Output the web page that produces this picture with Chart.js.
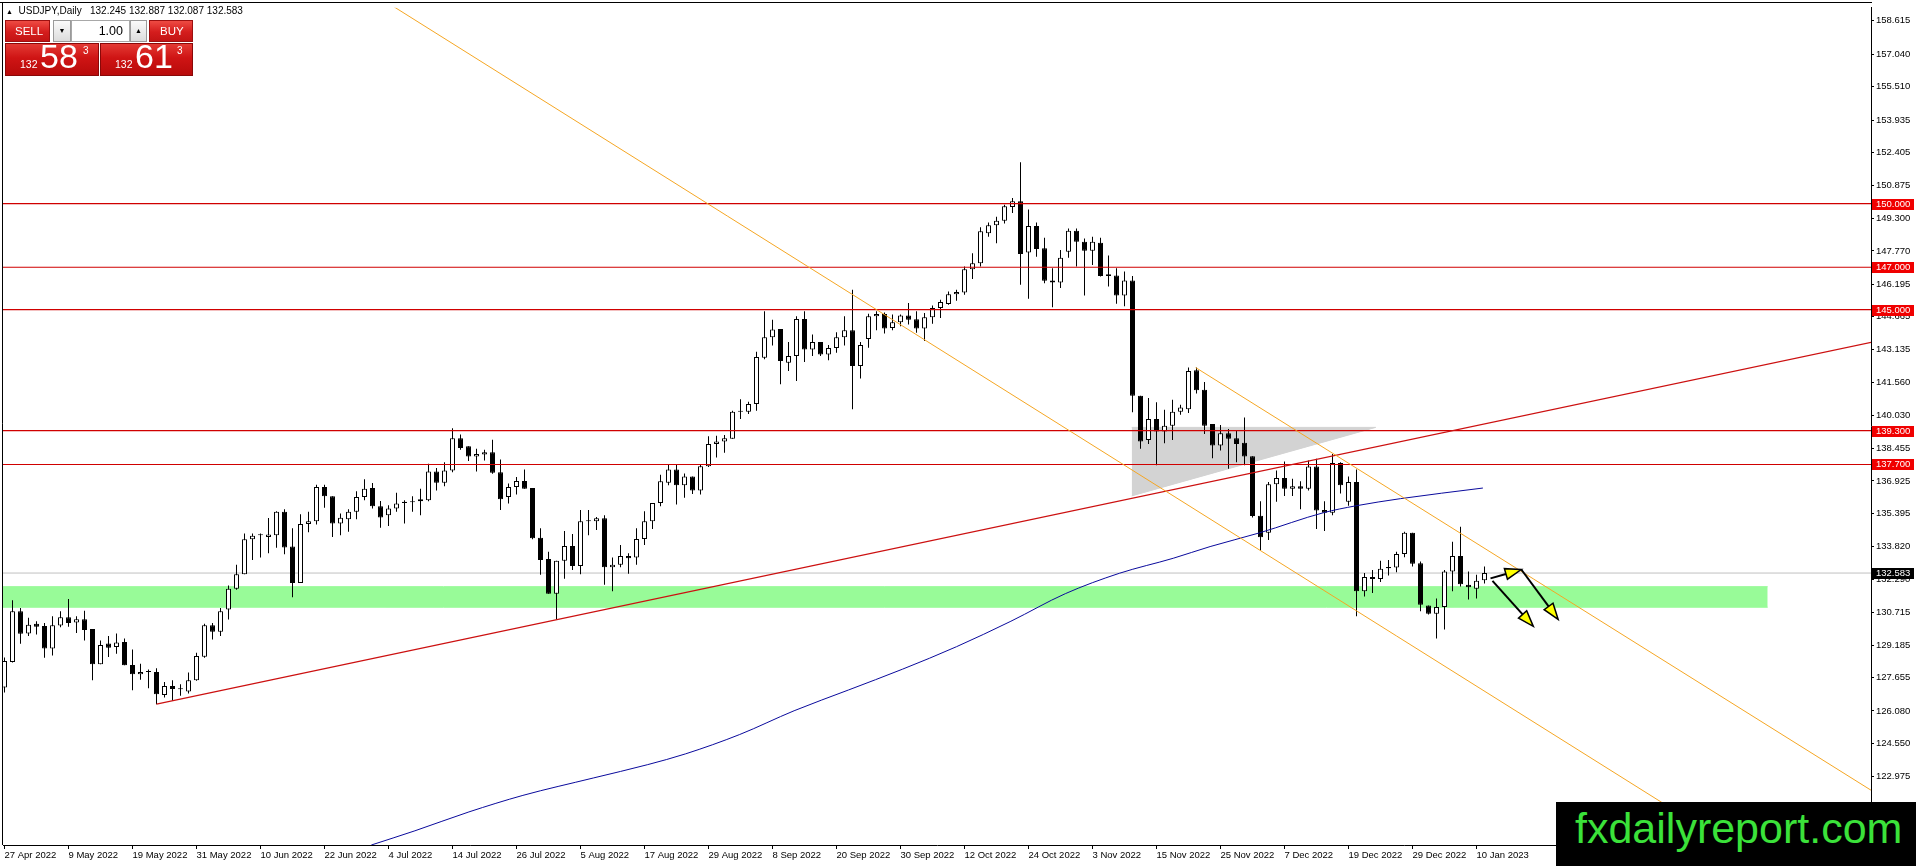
<!DOCTYPE html>
<html>
<head>
<meta charset="utf-8">
<title>USDJPY Daily</title>
<script src="https://cdn.jsdelivr.net/npm/chart.js@4.4.1/dist/chart.umd.min.js"></script>
<style>
html,body{margin:0;padding:0;background:#fff;overflow:hidden;}
#wrap{position:relative;width:1916px;height:866px;overflow:hidden;}
#c{position:absolute;left:0;top:0;}
.ov{position:absolute;box-sizing:border-box;}
.reg{font-family:"Liberation Sans",Arial,sans-serif;}
#title{left:6px;top:6px;font-size:10px;line-height:10px;color:#000;white-space:pre;}
.btnr{background:linear-gradient(#ee4b43,#d41d1d 55%,#c31414);border:1px solid #9c1010;color:#fff;font-size:11.5px;line-height:20px;}
.btng{background:linear-gradient(#fafafa,#dcdcdc);border:1px solid #9a9a9a;color:#000;font-size:7px;line-height:20px;text-align:center;}
.inp{background:#fff;border:1px solid #a8a8a8;color:#000;font-size:12.5px;line-height:20px;text-align:right;padding-right:6px;}
.pbox{background:linear-gradient(#e43a34,#cf1414 45%,#b80b0b);border:1px solid #8a0808;}
.pt{position:absolute;color:#fff;line-height:1;white-space:pre;}
#wm{left:1556px;top:802px;width:360px;height:64px;background:#000;}
#wmt{position:absolute;left:19px;top:5px;font-size:43px;line-height:43px;color:#3be23a;white-space:pre;}
</style>
</head>
<body>
<div id="wrap">
<canvas id="c" width="1916" height="866" style="width:1916px;height:866px"></canvas>
<div id="title" class="ov reg"><span style="font-size:7px">▲</span>  USDJPY,Daily   132.245 132.887 132.087 132.583</div>
<div class="ov btnr reg" style="left:5px;top:20px;width:45px;height:22px;padding-left:9px;">SELL</div>
<div class="ov btng reg" style="left:53px;top:20px;width:18px;height:22px;">▼</div>
<div class="ov inp reg" style="left:71px;top:20px;width:59px;height:22px;">1.00</div>
<div class="ov btng reg" style="left:130px;top:20px;width:17px;height:22px;">▲</div>
<div class="ov btnr reg" style="left:149px;top:20px;width:44px;height:22px;padding-left:10px;">BUY</div>
<div class="ov pbox" style="left:5px;top:43px;width:94px;height:33px;"></div>
<div class="ov pbox" style="left:100px;top:43px;width:93px;height:33px;"></div>
<span class="pt reg" style="left:20px;top:59px;font-size:10.5px;">132</span>
<span class="pt reg" style="left:40px;top:39px;font-size:34px;">58</span>
<span class="pt reg" style="left:83px;top:46px;font-size:10px;">3</span>
<span class="pt reg" style="left:115px;top:59px;font-size:10.5px;">132</span>
<span class="pt reg" style="left:135px;top:39px;font-size:34px;">61</span>
<span class="pt reg" style="left:177px;top:46px;font-size:10px;">3</span>
<div id="wm" class="ov"><span id="wmt" class="reg">fxdailyreport.com</span></div>
</div>
<script>
// ---------------- DATA ----------------
const opens = [
127.19,128.39,130.78,129.73,130.19,130.08,129.03,130.11,130.50,130.25,
130.40,129.94,128.28,129.26,129.09,129.33,128.25,127.81,127.92,127.92,
126.83,127.26,127.10,127.00,127.53,128.64,130.12,129.81,130.86,131.84,
132.53,134.18,134.36,134.28,134.37,135.47,133.83,132.11,134.89,135.03,
136.64,136.20,134.92,135.12,135.47,136.17,136.59,135.73,135.31,135.62,
135.94,135.97,135.97,136.01,137.37,136.84,137.42,138.94,138.56,138.08,
138.17,138.28,137.34,136.17,136.64,136.92,136.59,134.25,133.25,131.61,
133.16,133.86,132.92,135.03,135.03,135.16,132.86,132.97,133.39,133.31,
134.19,135.03,135.89,136.84,137.47,136.72,137.14,136.47,137.62,138.67,
138.78,138.91,140.19,140.19,140.55,142.73,143.70,144.09,142.50,142.81,
144.56,143.12,143.47,142.89,143.19,143.70,144.03,142.34,143.62,144.69,
144.80,144.14,144.41,144.73,144.55,144.11,144.64,145.08,145.27,145.73,
145.81,146.91,147.19,148.60,148.98,149.19,149.84,150.11,147.69,148.95,
147.89,146.38,146.28,147.73,148.72,148.20,147.78,148.16,146.67,146.61,
145.67,146.38,140.94,138.86,139.84,139.25,139.53,140.19,140.31,142.14,
141.22,139.61,138.59,139.17,138.94,138.72,138.09,135.28,134.48,136.77,
137.06,136.56,136.67,136.56,137.61,135.55,135.42,137.77,135.94,136.88,
131.72,132.40,132.30,132.87,132.84,133.48,134.48,133.05,131.05,130.66,
130.98,132.66,133.39,132.03,131.84,132.245];
const highs = [
128.60,131.30,130.94,130.47,130.31,130.23,130.55,130.78,131.36,130.55,
130.81,129.94,129.40,129.61,129.73,129.50,128.98,128.31,128.04,128.09,
127.45,127.53,127.34,127.89,128.83,130.19,130.23,130.94,132.00,132.97,
134.45,134.45,134.45,135.18,135.50,135.59,134.69,135.36,135.47,136.75,
136.75,136.20,135.39,135.59,136.44,137.00,136.83,135.98,135.78,136.37,
136.01,136.20,136.56,137.73,137.53,137.81,139.41,139.11,138.56,138.44,
138.39,138.87,137.94,136.80,137.11,137.47,136.59,134.69,133.59,133.16,
134.56,134.42,135.55,135.55,135.23,135.31,133.31,133.90,133.52,134.69,
135.50,135.89,137.22,137.69,137.69,137.27,137.14,137.69,139.03,139.06,
139.09,140.23,140.78,140.66,143.02,144.92,144.53,144.09,143.47,144.69,
144.92,143.83,143.47,143.33,143.94,144.69,145.94,143.47,144.81,144.92,
144.87,144.77,144.77,145.31,144.92,144.84,145.20,145.47,145.86,145.94,
147.03,147.66,148.88,149.11,149.38,149.95,150.27,151.95,149.72,149.11,
148.39,146.95,147.81,148.83,148.83,148.36,148.44,148.39,147.55,146.95,
146.80,146.59,140.94,140.83,140.63,140.28,140.75,140.52,142.27,142.27,
141.59,139.61,139.56,139.37,139.30,139.92,138.09,135.97,136.88,137.42,
137.84,137.03,136.91,137.89,137.97,135.97,138.20,137.81,137.14,137.47,
132.58,132.73,133.16,133.20,133.59,134.53,134.48,133.13,131.05,131.38,
132.73,134.06,134.77,132.66,132.50,132.887];
const lows = [
126.95,128.36,129.25,129.61,129.69,128.59,128.70,130.03,130.05,129.76,
129.40,127.53,128.28,128.62,128.78,128.23,127.06,127.55,127.15,126.40,
126.72,126.56,126.80,126.90,127.50,128.59,129.45,129.61,130.39,131.80,
132.53,133.20,133.31,133.51,133.78,133.47,131.44,132.11,134.50,134.87,
135.66,134.28,134.37,134.53,135.12,136.01,135.62,134.72,134.80,135.47,
134.92,135.47,135.31,135.97,136.48,136.67,137.34,138.39,137.86,137.37,
137.89,137.26,135.55,135.86,136.28,136.56,134.17,132.50,131.61,130.39,
132.31,132.73,132.53,134.37,134.61,132.03,131.72,132.86,132.55,132.97,
133.90,134.66,135.73,136.72,135.81,136.13,136.31,136.28,137.58,138.03,
138.25,138.91,139.84,140.08,140.23,142.66,143.31,141.48,142.11,141.64,
142.53,142.81,142.81,142.62,142.97,143.31,140.31,141.75,143.20,144.03,
143.88,144.03,144.22,144.30,143.91,143.52,144.33,144.61,145.23,145.42,
145.70,146.45,147.03,148.44,148.13,149.06,149.56,146.17,145.52,147.50,
146.25,145.11,146.02,147.45,147.03,145.67,147.11,146.56,146.09,145.28,
145.16,140.16,138.44,138.67,137.66,138.70,138.86,140.05,140.13,141.05,
139.14,138.00,138.36,137.50,137.81,137.66,135.20,133.63,134.14,135.94,
136.22,136.22,135.59,136.48,134.66,134.56,135.31,136.33,135.75,130.55,
131.48,131.64,132.16,132.47,132.62,133.33,132.89,130.78,130.63,129.50,
129.92,131.72,131.95,131.33,131.38,132.087];
const closes = [
128.43,130.78,129.72,130.15,130.05,129.03,130.12,130.50,130.23,130.40,
129.90,128.28,129.19,129.06,129.31,128.23,127.81,127.92,127.93,126.87,
127.26,127.11,127.12,127.53,128.67,130.12,129.81,130.78,131.84,132.53,
134.18,134.34,134.38,134.40,135.47,133.79,132.11,134.89,135.03,136.64,
136.20,134.92,135.19,135.47,136.17,136.56,135.73,135.20,135.62,135.86,
135.89,135.92,136.06,137.37,136.84,137.42,138.94,138.48,138.08,138.20,
138.28,137.31,136.06,136.64,136.92,136.56,134.22,133.20,131.61,133.16,
133.86,132.92,135.03,135.04,135.16,132.86,132.97,133.39,133.28,134.19,
135.03,135.89,136.91,137.47,136.72,137.14,136.47,137.62,138.67,138.78,
138.94,140.19,140.20,140.55,142.77,143.70,144.06,142.58,142.81,144.56,
143.12,143.47,142.89,143.19,143.70,144.03,142.34,143.33,144.69,144.80,
144.11,144.41,144.73,144.53,144.11,144.64,145.08,145.36,145.73,145.83,
146.91,147.19,148.70,148.98,149.19,149.88,150.11,147.62,148.95,147.86,
146.36,146.28,147.45,148.72,148.20,147.78,148.20,146.59,146.59,145.67,
146.38,140.94,138.78,139.84,139.25,139.53,140.19,140.39,142.11,141.20,
139.53,138.59,139.17,138.91,138.67,138.08,135.27,134.27,136.77,137.06,
136.56,136.67,136.56,137.61,135.53,135.42,137.77,136.72,136.88,131.72,
132.40,132.30,132.78,132.81,133.48,134.48,133.02,131.09,130.66,130.98,
132.66,133.39,132.06,131.91,132.22,132.583];

const dateLabels = ['27 Apr 2022','9 May 2022','19 May 2022','31 May 2022','10 Jun 2022','22 Jun 2022',
'4 Jul 2022','14 Jul 2022','26 Jul 2022','5 Aug 2022','17 Aug 2022','29 Aug 2022','8 Sep 2022',
'20 Sep 2022','30 Sep 2022','12 Oct 2022','24 Oct 2022','3 Nov 2022','15 Nov 2022','25 Nov 2022',
'7 Dec 2022','19 Dec 2022','29 Dec 2022','10 Jan 2023'];
const labelBars = [0,8,16,24,32,40,48,56,64,72,80,88,96,104,112,120,128,136,144,152,160,168,176,184];
const yTicks = [158.615,157.040,155.510,153.935,152.405,150.875,149.300,147.770,146.195,144.665,143.135,
141.560,140.030,138.455,136.925,135.395,133.820,132.290,130.715,129.185,127.655,126.080,124.550,122.975];

const levels = [150.000,147.000,145.000,139.300,137.700];
const lastPrice = 132.583;

const trendBars = [19, 233.5];
const trendPrices = [126.40, 143.47];
const chan1Bars = [45, 220];
const chan1Prices = [160.15, 118.73];
const chan2Bars = [148.9, 233.5];
const chan2Prices = [142.27, 122.30];

const maBars = [45.85,51.3,58.05,64.8,73.6,80.4,85.15,91.9,98.7,105.5,112.25,119.0,125.8,132.6,139.35,146.1,150.7,156.9,164.9,168.9,174.5,184.8];
const maValues = [119.76,120.43,121.32,122.10,122.92,123.55,124.06,124.97,126.09,127.07,128.05,129.11,130.31,131.61,132.57,133.28,133.83,134.48,135.43,135.75,136.09,136.59];

const zoneBars = [-1, 220.4];
const zonePrices = [130.97, 131.94];

const triBars = [140.9, 171.4];
const triTopPrices = [139.45, 139.45];
const triBottomPrices = [136.22, 139.45];

const arrowFromBars = [185.75, 189.6, 186.0];
const arrowFromPrices = [132.33, 132.75, 132.21];
const arrowToBars = [189.6, 194.2, 191.1];
const arrowToPrices = [132.75, 130.40, 130.07];

// ---------------- CHART ----------------
const FONT = '"Liberation Sans", Arial, sans-serif';
const FSIZE = 9.5;
const X_MIN = -0.1875, X_MAX = 233.3125;
const Y_MIN = 119.761, Y_MAX = 159.236;

const pts = (xs, ys) => xs.map((v, k) => ({x: v, y: ys[k]}));
const idx = opens.map((_, i) => i);

function lineDs(data, color, order, extra) {
  return Object.assign({type: 'line', data, borderColor: color, borderWidth: 1, pointRadius: 0,
    pointHoverRadius: 0, fill: false, tension: 0, order}, extra || {});
}

const datasets = [];
datasets.push(lineDs(pts(zoneBars, [zonePrices[1], zonePrices[1]]), '#98fb98', 30, {fill: '+1', backgroundColor: '#98fb98'}));
datasets.push(lineDs(pts(zoneBars, [zonePrices[0], zonePrices[0]]), '#98fb98', 30));
datasets.push(lineDs(pts(triBars, triTopPrices), '#d3d3d3', 29, {fill: '+1', backgroundColor: '#d3d3d3'}));
datasets.push(lineDs(pts(triBars, triBottomPrices), '#d3d3d3', 29));
datasets.push(lineDs(pts([X_MIN, X_MAX], [lastPrice, lastPrice]), '#c0c0c0', 25));
datasets.push({type: 'bar', data: idx.map(i => ({x: i, y: [lows[i], highs[i]]})), backgroundColor: '#000',
  borderWidth: 0, barThickness: 1, grouped: false, inflateAmount: 0, order: 21});
datasets.push({type: 'bar', data: idx.map(i => ({x: i, y: [opens[i], closes[i]]})),
  backgroundColor: c => closes[c.dataIndex] >= opens[c.dataIndex] ? '#ffffff' : '#000000',
  borderColor: '#000', borderWidth: 1, borderSkipped: false, barThickness: 5, minBarLength: 1,
  grouped: false, inflateAmount: 0, order: 20});
levels.forEach(v => datasets.push(lineDs(pts([X_MIN, X_MAX], [v, v]), '#d00000', 5, {borderWidth: 1.2})));
datasets.push(lineDs(pts(trendBars, trendPrices), '#cc1010', 4, {borderWidth: 1.2}));
datasets.push(lineDs(pts(maBars, maValues), '#0a0a9c', 4, {cubicInterpolationMode: 'monotone'}));
datasets.push(lineDs(pts(chan1Bars, chan1Prices), '#f5a623', 3));
datasets.push(lineDs(pts(chan2Bars, chan2Prices), '#f5a623', 3));

const decorPlugin = {
  id: 'decor',
  afterDatasetsDraw(chart) {
    const {ctx, scales: {x, y}} = chart;
    ctx.save();
    for (let k = 0; k < arrowFromBars.length; k++) {
      const x1 = x.getPixelForValue(arrowFromBars[k]), y1 = y.getPixelForValue(arrowFromPrices[k]);
      const x2 = x.getPixelForValue(arrowToBars[k]), y2 = y.getPixelForValue(arrowToPrices[k]);
      const a = Math.atan2(y2 - y1, x2 - x1);
      const L = 16, W = 5.5;
      const bx = x2 - L * Math.cos(a), by = y2 - L * Math.sin(a);
      ctx.strokeStyle = '#000'; ctx.lineWidth = 2;
      ctx.beginPath(); ctx.moveTo(x1, y1); ctx.lineTo(bx, by); ctx.stroke();
      ctx.beginPath(); ctx.moveTo(x2, y2);
      ctx.lineTo(bx + W * Math.sin(a), by - W * Math.cos(a));
      ctx.lineTo(bx - W * Math.sin(a), by + W * Math.cos(a));
      ctx.closePath();
      ctx.fillStyle = '#ffff00'; ctx.fill(); ctx.lineWidth = 1.5; ctx.stroke();
    }
    ctx.restore();
  },
  afterDraw(chart) {
    const {ctx, scales: {y}, chartArea} = chart;
    ctx.save();
    ctx.strokeStyle = '#000'; ctx.lineWidth = 1;
    ctx.beginPath();
    ctx.moveTo(0, 2.5); ctx.lineTo(y.left + 1, 2.5);
    ctx.moveTo(2.5, 2.5); ctx.lineTo(2.5, chartArea.bottom);
    ctx.stroke();
    ctx.font = FSIZE + 'px ' + FONT;
    ctx.textBaseline = 'middle';
    ctx.textAlign = 'left';
    const tag = (v, bg, fg) => {
      const py = Math.round(y.getPixelForValue(v));
      ctx.fillStyle = bg; ctx.fillRect(y.left + 1, py - 5, 42, 11);
      ctx.fillStyle = fg; ctx.fillText(v.toFixed(3), y.left + 5, py + 0.5);
    };
    levels.forEach(v => tag(v, '#f00000', '#ffffff'));
    tag(lastPrice, '#000000', '#ffffff');
    ctx.restore();
  }
};

Chart.defaults.font.family = FONT;
new Chart(document.getElementById('c'), {
  type: 'bar',
  data: {datasets},
  plugins: [decorPlugin],
  options: {
    responsive: false,
    animation: false,
    events: [],
    layout: {padding: {left: 3, top: 3, right: 0, bottom: 0}},
    plugins: {legend: {display: false}, tooltip: {enabled: false}, title: {display: false}},
    scales: {
      x: {
        type: 'linear', position: 'bottom', min: X_MIN, max: X_MAX, offset: false,
        grid: {display: true, drawOnChartArea: false, drawTicks: true, tickLength: 4, color: '#000', offset: false},
        border: {display: true, color: '#000', width: 1},
        ticks: {autoSkip: false, maxRotation: 0, minRotation: 0, align: 'start', padding: 1, color: '#000',
          font: {size: FSIZE, family: FONT},
          callback: v => { const k = labelBars.indexOf(v); return k >= 0 ? dateLabels[k] : ''; }},
        afterBuildTicks: s => { s.ticks = labelBars.map(v => ({value: v})); },
        afterFit: s => { s.height = 21; }
      },
      y: {
        type: 'linear', position: 'right', min: Y_MIN, max: Y_MAX,
        grid: {display: true, drawOnChartArea: false, drawTicks: true, tickLength: 3, color: '#000'},
        border: {display: true, color: '#000', width: 1},
        ticks: {autoSkip: false, padding: 2, color: '#000', font: {size: FSIZE, family: FONT},
          callback: v => Number(v).toFixed(3)},
        afterBuildTicks: s => { s.ticks = yTicks.map(v => ({value: v})); },
        afterFit: s => { s.width = 45; }
      }
    }
  }
});
</script>
</body>
</html>
